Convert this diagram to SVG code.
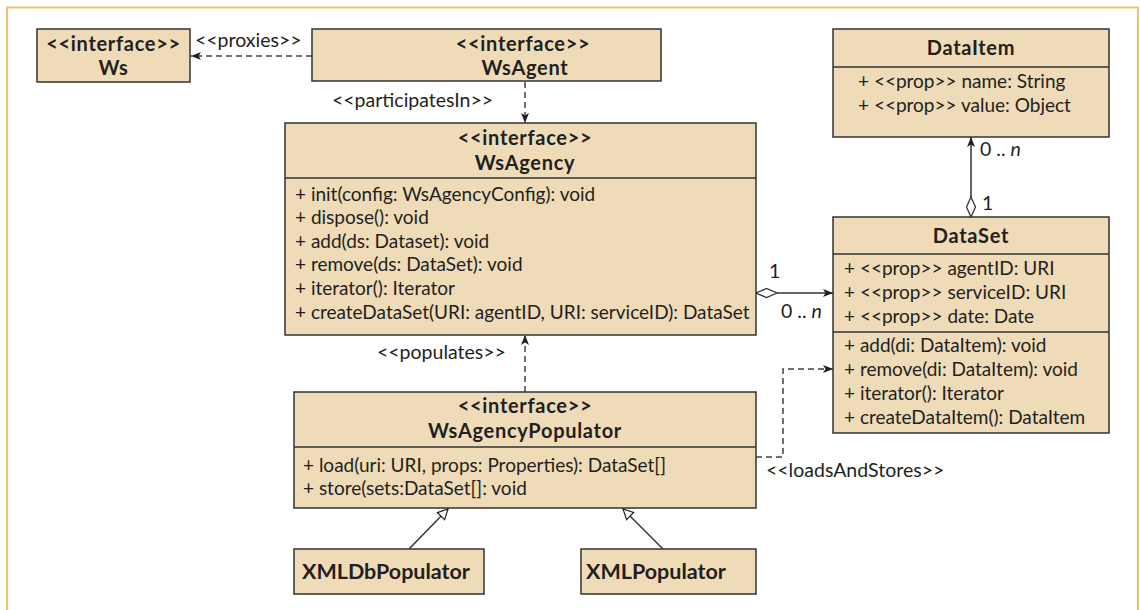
<svg xmlns="http://www.w3.org/2000/svg" width="1140" height="610" viewBox="0 0 1140 610">
  <style>
    .box { fill: #EFDBB8; stroke: #333; stroke-width: 1.5; }
    .div { stroke: #333; stroke-width: 1.5; }
    .t { font-family: Lato, "Open Sans", "Liberation Sans", sans-serif; font-size: 19px; fill: #231F20; }
    .b { font-weight: bold; font-size: 20px; letter-spacing: 0.7px; text-anchor: middle; }
    .bl { font-weight: bold; font-size: 21.5px; }
    .lbl { font-family: Lato, "Open Sans", "Liberation Sans", sans-serif; font-size: 19.5px; fill: #231F20; }
    .solid { stroke: #333; stroke-width: 1.5; fill: none; }
    .dash { stroke: #444; stroke-width: 1.5; fill: none; stroke-dasharray: 6 4; }
  </style>
  <defs>
    <marker id="arrow" viewBox="0 0 10 8" refX="10" refY="4" markerWidth="10" markerHeight="8" markerUnits="userSpaceOnUse" orient="auto">
      <path d="M0,0 L10,4 L0,8 L2.5,4 z" fill="#231F20"/>
    </marker>
    <marker id="hollow" viewBox="0 0 12 12" refX="11" refY="6" markerWidth="12" markerHeight="12" markerUnits="userSpaceOnUse" orient="auto">
      <path d="M1,1 L11,6 L1,11 z" fill="#fff" stroke="#231F20" stroke-width="1.2"/>
    </marker>
  </defs>

  <rect width="1140" height="610" fill="#fff"/>
  <path d="M7,610 V7.5 H1138 V610" fill="none" stroke="#EFC36E" stroke-width="2"/>

  <!-- connectors -->
  <g id="connectors">
    <line class="dash" x1="312" y1="56" x2="191" y2="56" marker-end="url(#arrow)"/>
    <text class="lbl" x="195" y="47">&lt;&lt;proxies&gt;&gt;</text>

    <line class="dash" x1="525" y1="82" x2="525" y2="123" marker-end="url(#arrow)"/>
    <text class="lbl" x="332" y="107">&lt;&lt;participatesIn&gt;&gt;</text>

    <line class="dash" x1="525" y1="392" x2="525" y2="335" marker-end="url(#arrow)"/>
    <text class="lbl" x="377" y="359">&lt;&lt;populates&gt;&gt;</text>

    <line class="solid" x1="777" y1="293" x2="833" y2="293" marker-end="url(#arrow)"/>
    <path d="M756,293 L766.5,288.5 L777,293 L766.5,297.5 z" fill="#fff" stroke="#333" stroke-width="1.3"/>
    <text class="lbl" x="769" y="278">1</text>
    <text class="lbl" x="781" y="318">0 .. <tspan font-style="italic">n</tspan></text>

    <line class="solid" x1="971" y1="197" x2="971" y2="137" marker-end="url(#arrow)"/>
    <path d="M971,217 L966.5,207 L971,197 L975.5,207 z" fill="#fff" stroke="#333" stroke-width="1.3"/>
    <text class="lbl" x="980" y="156">0 .. <tspan font-style="italic">n</tspan></text>
    <text class="lbl" x="982" y="210">1</text>

    <polyline class="dash" points="756,457 783,457 783,369 833,369" marker-end="url(#arrow)"/>
    <text class="lbl" x="766" y="477">&lt;&lt;loadsAndStores&gt;&gt;</text>

    <line class="solid" stroke-width="1.2" x1="409" y1="549" x2="448" y2="509" marker-end="url(#hollow)"/>
    <line class="solid" stroke-width="1.2" x1="663" y1="549" x2="623" y2="509" marker-end="url(#hollow)"/>
  </g>

  <g id="Ws">
    <rect class="box" x="37" y="29" width="153" height="53"/>
    <text class="t b" x="113.5" y="51">&lt;&lt;interface&gt;&gt;</text>
    <text class="t b" x="113.5" y="75">Ws</text>
  </g>

  <g id="WsAgent">
    <rect class="box" x="312" y="29" width="349" height="52"/>
    <text class="t b" x="523" y="51">&lt;&lt;interface&gt;&gt;</text>
    <text class="t b" x="525" y="75">WsAgent</text>
  </g>

  <g id="WsAgency">
    <rect class="box" x="285" y="123" width="471" height="212"/>
    <line class="div" x1="285" y1="178" x2="756" y2="178"/>
    <text class="t b" x="525" y="145">&lt;&lt;interface&gt;&gt;</text>
    <text class="t b" x="525" y="170">WsAgency</text>
    <text class="t" x="295" y="201">+ init(config: WsAgencyConfig): void</text>
    <text class="t" x="295" y="224">+ dispose(): void</text>
    <text class="t" x="295" y="248">+ add(ds: Dataset): void</text>
    <text class="t" x="295" y="271">+ remove(ds: DataSet): void</text>
    <text class="t" x="295" y="295">+ iterator(): Iterator</text>
    <text class="t" x="295" y="319">+ createDataSet(URI: agentID, URI: serviceID): DataSet</text>
  </g>

  <g id="WsAgencyPopulator">
    <rect class="box" x="294" y="392" width="462" height="116"/>
    <line class="div" x1="294" y1="447" x2="756" y2="447"/>
    <text class="t b" x="525" y="413">&lt;&lt;interface&gt;&gt;</text>
    <text class="t b" x="525" y="438">WsAgencyPopulator</text>
    <text class="t" x="303" y="472">+ load(uri: URI, props: Properties): DataSet[]</text>
    <text class="t" x="303" y="495">+ store(sets:DataSet[]: void</text>
  </g>

  <g id="XMLDbPopulator">
    <rect class="box" x="294" y="549" width="190" height="45"/>
    <text class="t bl" x="302" y="579">XMLDbPopulator</text>
  </g>

  <g id="XMLPopulator">
    <rect class="box" x="581" y="549" width="175" height="45"/>
    <text class="t bl" x="586" y="579">XMLPopulator</text>
  </g>

  <g id="DataItem">
    <rect class="box" x="833" y="29" width="276" height="108"/>
    <line class="div" x1="833" y1="67" x2="1109" y2="67"/>
    <text class="t b" x="971" y="55">DataItem</text>
    <text class="t" x="858" y="88">+ &lt;&lt;prop&gt;&gt; name: String</text>
    <text class="t" x="858" y="112">+ &lt;&lt;prop&gt;&gt; value: Object</text>
  </g>

  <g id="DataSet">
    <rect class="box" x="833" y="217" width="276" height="216"/>
    <line class="div" x1="833" y1="254" x2="1109" y2="254"/>
    <line class="div" x1="833" y1="332" x2="1109" y2="332"/>
    <text class="t b" x="971" y="243">DataSet</text>
    <text class="t" x="844" y="275">+ &lt;&lt;prop&gt;&gt; agentID: URI</text>
    <text class="t" x="844" y="299">+ &lt;&lt;prop&gt;&gt; serviceID: URI</text>
    <text class="t" x="844" y="323">+ &lt;&lt;prop&gt;&gt; date: Date</text>
    <text class="t" x="844" y="352">+ add(di: DataItem): void</text>
    <text class="t" x="844" y="376">+ remove(di: DataItem): void</text>
    <text class="t" x="844" y="400">+ iterator(): Iterator</text>
    <text class="t" x="844" y="424">+ createDataItem(): DataItem</text>
  </g>
</svg>
